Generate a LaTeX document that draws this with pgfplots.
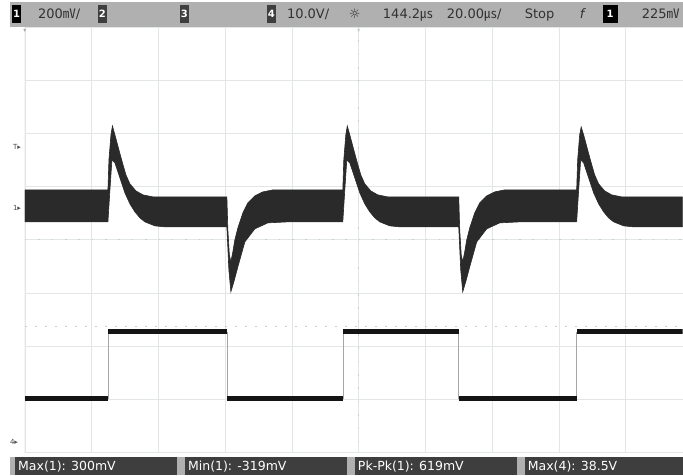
\documentclass[border=0pt]{standalone}
\usepackage{pgfplots}
\pgfplotsset{compat=1.18}
\usepackage{fontspec}
\setmainfont{DejaVu Sans}
\newfontfamily\cjk{Noto Sans CJK SC}
\definecolor{gridc}{RGB}{226,230,230}
\definecolor{cgrid}{RGB}{200,205,205}
\definecolor{barc}{RGB}{176,176,176}
\definecolor{boxc}{RGB}{62,62,62}
\definecolor{bartxt}{RGB}{50,50,50}
\definecolor{trace}{RGB}{42,42,42}
\begin{document}
\begin{tikzpicture}[x=1pt,y=1pt]
\fill[white] (0,0) rectangle (683,476);
\begin{axis}[
  at={(25pt,23pt)}, anchor=south west,
  scale only axis, width=658pt, height=426pt,
  xmin=25, xmax=683, ymin=27, ymax=453, y dir=reverse,
  axis line style={draw=none},
  tick style={draw=none},
  xtick={25,91.8,158.6,225.4,292.2,359,425.8,492.6,559.4,626.2},
  ytick={27,80.25,133.5,186.75,240,293.25,346.5,399.75,453},
  xticklabels={}, yticklabels={},
  grid=major, major grid style={gridc, line width=0.8pt},
]
\draw[cgrid, line width=0.8pt, dash pattern=on 1.5pt off 11.86pt] (axis cs:359,27) -- (axis cs:359,453);
\draw[cgrid, line width=0.8pt, dash pattern=on 1.5pt off 11.86pt] (axis cs:25,240) -- (axis cs:683,240);
\draw[cgrid, line width=0.8pt, dash pattern=on 2pt off 8pt] (axis cs:25,327) -- (axis cs:683,327);
\draw[gray!60, line width=1pt] (axis cs:25,27) -- (axis cs:25,453);
% Channel 1 (noisy band)
\addplot[fill=trace, draw=trace, line width=0.6pt] coordinates {
(25,190) (108,190)
(109,160) (111,135) (112.5,126) (115,135) (119,150) (122,161) (126,175) (130,184) (136,191) (143,195) (153,197) (227,197)
(228,230) (229.5,255) (231,262) (233,252) (235,240) (238,228) (243,213) (248,203) (255,196) (263,192) (273,190) (343,190)
(344,160) (346,135) (347.5,126) (350,135) (354,150) (357,161) (361,175) (365,184) (371,191) (378,195) (388,197) (459,197)
(460,230) (461.5,255) (463,262) (465,252) (467,240) (470,228) (475,213) (480,203) (487,196) (495,192) (505,190) (577,190)
(578,160) (580,135) (581.5,127) (584,135) (588,150) (591,161) (595,175) (599,184) (605,191) (612,195) (622,197) (683,197)
(683,227) (634,227) (624,226) (614,222) (609,218) (604,212) (599,204) (594,193) (589,178) (584,163) (581,160) (579,190) (577,222)
(520,222) (500,223) (487,229) (477,242) (470,267) (466,282) (463,292) (461,270) (459,227)
(400,227) (390,226) (380,222) (375,218) (370,212) (365,204) (360,193) (355,178) (350,163) (347,160) (345,190) (343,222)
(288,222) (268,223) (255,229) (245,242) (238,267) (234,282) (231,292) (229,270) (227,227)
(165,227) (155,226) (145,222) (140,218) (135,212) (130,204) (125,193) (120,178) (115,163) (112,160) (110,190) (108,222) (25,222)
} -- cycle;
% Channel 4 (square wave)
\addplot[const plot, gray!70, line width=0.6pt] coordinates {(25,399) (108,332) (227,399) (343,332) (459,399) (577,332) (683,332)};
\addplot[black!92, line width=5pt, unbounded coords=jump] coordinates {
(25,399) (108,399) (108,nan)
(108.5,332) (227,332) (227,nan)
(227.5,399) (343,399) (343,nan)
(343.5,332) (459,332) (459,nan)
(459.5,399) (577,399) (577,nan)
(577.5,332) (683,332)};
\end{axis}
% top status bar
\fill[barc] (10,449) rectangle (683,474);
\begin{scope}[every node/.style={inner sep=0pt, anchor=base west, text=bartxt, font=\fontsize{13}{13}\selectfont}]
\fill[black] (12,453) rectangle (21,471);
\node[text=white, font=\fontsize{10}{10}\selectfont\bfseries, anchor=center] at (16.5,462) {1};
\node at (38,457) {200{\cjk ㎷}/};
\fill[boxc] (98,453) rectangle (107,471);
\node[text=white, font=\fontsize{10}{10}\selectfont\bfseries, anchor=center] at (102.5,462) {2};
\fill[boxc] (180,453) rectangle (189,471);
\node[text=white, font=\fontsize{10}{10}\selectfont\bfseries, anchor=center] at (184.5,462) {3};
\fill[boxc] (267,453) rectangle (276,471);
\node[text=white, font=\fontsize{10}{10}\selectfont\bfseries, anchor=center] at (271.5,462) {4};
\node at (287,457) {10.0V/};
\node at (349,457) {☼};
\node at (383,457) {144.2{\cjk ㎲}};
\node at (447,457) {20.00{\cjk ㎲}/};
\node at (525,457) {Stop};
\node at (580,457) {\itshape f};
\fill[black] (603,453) rectangle (618,471);
\node[text=white, font=\fontsize{10}{10}\selectfont\bfseries, anchor=center] at (610.5,462) {1};
\node at (642,457) {225{\cjk ㎷}};
\end{scope}
% bottom measurement bar
\fill[barc] (10,1) rectangle (683,19);
\fill[boxc] (15,1) rectangle (177,19);
\fill[boxc] (185,1) rectangle (347,19);
\fill[boxc] (355,1) rectangle (517,19);
\fill[boxc] (525,1) rectangle (683,19);
\begin{scope}[every node/.style={inner sep=0pt, anchor=base west, text=white, font=\fontsize{12.5}{12.5}\selectfont}]
\node at (18,5.5) {Max(1): 300mV};
\node at (188,5.5) {Min(1): -319mV};
\node at (358,5.5) {Pk-Pk(1): 619mV};
\node at (528,5.5) {Max(4): 38.5V};
\end{scope}
% markers
\node[text=black!70, font=\fontsize{7}{7}\selectfont, inner sep=0pt] at (17,329) {T▸};
\node[text=black!70, font=\fontsize{7}{7}\selectfont, inner sep=0pt] at (17,268) {1▸};
\node[text=black!70, font=\fontsize{7}{7}\selectfont, inner sep=0pt] at (14,34) {4▸};
\node[text=gray!70, font=\fontsize{6}{6}\selectfont, inner sep=0pt] at (25,445) {▾};
\node[text=gray!70, font=\fontsize{6}{6}\selectfont, inner sep=0pt] at (359,445) {▿};
\end{tikzpicture}
\end{document}
